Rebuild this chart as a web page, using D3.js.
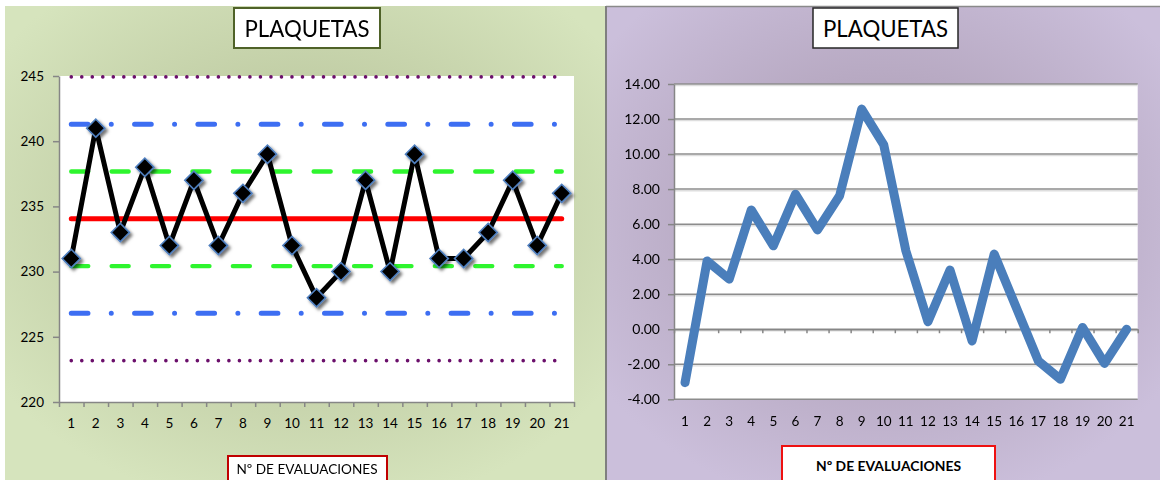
<!DOCTYPE html>
<html>
<head>
<meta charset="utf-8">
<script src="https://cdn.jsdelivr.net/npm/d3@7"></script>
<style>
  html, body { margin: 0; padding: 0; background: #ffffff; }
  svg { display: block; font-family: Lato, "Open Sans", "Liberation Sans", sans-serif; }
</style>
</head>
<body>
<svg id="chart" width="1160" height="480"></svg>
<script>
// Evaluation numbers shared by both charts
const categories = [1, 2, 3, 4, 5, 6, 7, 8, 9, 10, 11, 12, 13, 14, 15, 16, 17, 18, 19, 20, 21];

// Platelet readings per evaluation (control chart)
const plaquetas = [231, 241, 233, 238, 232, 237, 232, 236, 239, 232, 228, 230, 237, 230, 239, 231, 231, 233, 237, 232, 236];

// Control limits: centre line and the 1, 2 and 3 sigma bands
const centerLine = 234.05;
const sigma1 = [230.42, 237.68];
const sigma2 = [226.80, 241.30];
const sigma3 = [223.17, 244.93];

// Accumulated deviation per evaluation (right chart)
const acumulado = [-3.05, 3.90, 2.86, 6.81, 4.76, 7.71, 5.67, 7.62, 12.57, 10.52, 4.48, 0.43, 3.38, -0.67, 4.29, 1.24, -1.81, -2.86, 0.10, -1.95, 0.00];

// Tick values
const leftYTicks = [220, 225, 230, 235, 240, 245];
const rightYTicks = [-4, -2, 0, 2, 4, 6, 8, 10, 12, 14];

const titleText = "PLAQUETAS";
const xTitleText = "Nº DE EVALUACIONES";

const svg = d3.select("#chart");
const defs = svg.append("defs");

// Number format with a plain hyphen for negatives
const fmt2 = d3.formatLocale({ decimal: ".", thousands: ",", grouping: [3], currency: ["", ""], minus: "-" }).format(".2f");

function radial(id, inner, outer) {
  const g = defs.append("radialGradient").attr("id", id)
    .attr("cx", "50%").attr("cy", "45%").attr("r", "62%");
  g.append("stop").attr("offset", "0%").attr("stop-color", inner);
  g.append("stop").attr("offset", "100%").attr("stop-color", outer);
}
radial("bgGreen", "#b0bb92", "#d6e4bd");
radial("bgPurple", "#a595ab", "#cbbfdb");

const shadow = defs.append("filter").attr("id", "mshadow")
  .attr("x", "-60%").attr("y", "-60%").attr("width", "220%").attr("height", "220%");
shadow.append("feDropShadow").attr("dx", 2.5).attr("dy", 2.5)
  .attr("stdDeviation", 1.8).attr("flood-color", "#000").attr("flood-opacity", 0.55);

const axisGray = "#868686";

function styleAxis(g, fontSize) {
  g.selectAll(".domain").attr("stroke", axisGray).attr("stroke-width", 1.5);
  g.selectAll(".tick line").attr("stroke", axisGray).attr("stroke-width", 1.5);
  g.selectAll(".tick text").attr("fill", "#000").attr("font-size", fontSize)
    .attr("font-family", "Lato, 'Open Sans', sans-serif");
}

// ---------------- Left panel: control chart ----------------
svg.append("rect").attr("x", 5).attr("y", 6).attr("width", 600).attr("height", 474)
  .attr("fill", "url(#bgGreen)");

const L = { left: 59, right: 574, top: 76, bottom: 402 };
const xL = d3.scaleBand().domain(categories).range([L.left, L.right]).padding(0);
const xLc = c => xL(c) + xL.bandwidth() / 2;
const xLb = d3.scaleLinear().domain([0.5, categories.length + 0.5]).range([L.left, L.right]);
const yL = d3.scaleLinear().domain([220, 245]).range([L.bottom, L.top]);

svg.append("rect").attr("x", L.left).attr("y", L.top)
  .attr("width", L.right - L.left).attr("height", L.bottom - L.top).attr("fill", "#fff");

const limitLine = v => d3.line().x(c => xLc(c)).y(() => yL(v))(categories);

function drawLimit(v, color, width, dash) {
  svg.append("path").attr("d", limitLine(v)).attr("fill", "none")
    .attr("stroke", color).attr("stroke-width", width)
    .attr("stroke-linecap", "round").attr("stroke-dasharray", dash);
}
sigma3.forEach(v => drawLimit(v, "#6b0f6b", 3.6, "0.01 10.5"));
sigma2.forEach(v => drawLimit(v, "#3d6ef2", 5, "16.7 23.3 0.01 23.3"));
sigma1.forEach(v => drawLimit(v, "#2ef52e", 4.4, "17 23.4"));
drawLimit(centerLine, "#ff0000", 5, null);

// Axes
const gLy = svg.append("g").attr("transform", `translate(${L.left},0)`)
  .call(d3.axisLeft(yL).tickValues(leftYTicks).tickSize(6).tickSizeOuter(0).tickPadding(9));
styleAxis(gLy, 13.5);

const boundaries = categories.map(c => c - 0.5).concat([categories.length + 0.5]);
const gLx = svg.append("g").attr("transform", `translate(0,${L.bottom})`)
  .call(d3.axisBottom(xLb).tickValues(boundaries).tickFormat("").tickSize(5).tickSizeOuter(0));
styleAxis(gLx, 13);

const gLxl = svg.append("g").attr("transform", `translate(0,${L.bottom})`)
  .call(d3.axisBottom(xL).tickSize(0).tickPadding(16));
gLxl.select(".domain").remove();
styleAxis(gLxl, 13.5);

// Data line and markers
svg.append("path")
  .attr("d", d3.line().x((d, i) => xLc(categories[i])).y(d => yL(d))(plaquetas))
  .attr("fill", "none").attr("stroke", "#000").attr("stroke-width", 5)
  .attr("stroke-linejoin", "round");

const diamond = d3.symbol().type(d3.symbolSquare).size(165);
svg.append("g").attr("filter", "url(#mshadow)")
  .selectAll("path").data(plaquetas).join("path")
  .attr("d", diamond)
  .attr("transform", (d, i) => `translate(${xLc(categories[i])},${yL(d)}) rotate(45)`)
  .attr("fill", "#000").attr("stroke", "#4f7fbf").attr("stroke-width", 1.6);

// Titles
svg.append("rect").attr("x", 234).attr("y", 8).attr("width", 146).attr("height", 40)
  .attr("fill", "#fff").attr("stroke", "#4f6228").attr("stroke-width", 2);
svg.append("text").attr("x", 307).attr("y", 37).attr("text-anchor", "middle")
  .attr("font-size", 24).attr("fill", "#000")
  .attr("textLength", 125).attr("lengthAdjust", "spacingAndGlyphs").text(titleText);

svg.append("rect").attr("x", 228).attr("y", 456).attr("width", 159).attr("height", 34)
  .attr("fill", "#fff").attr("stroke", "#c00000").attr("stroke-width", 2);
svg.append("text").attr("x", 307).attr("y", 474).attr("text-anchor", "middle")
  .attr("font-size", 14).attr("fill", "#000")
  .attr("textLength", 141).attr("lengthAdjust", "spacingAndGlyphs").text(xTitleText);

// ---------------- Right panel: accumulated deviation ----------------
svg.append("rect").attr("x", 607).attr("y", 6).attr("width", 553).attr("height", 474)
  .attr("fill", "url(#bgPurple)");
svg.append("line").attr("x1", 606).attr("x2", 1160).attr("y1", 6.5).attr("y2", 6.5)
  .attr("stroke", "#8a8a8a").attr("stroke-width", 1.5);
svg.append("line").attr("x1", 606).attr("x2", 606).attr("y1", 6).attr("y2", 480)
  .attr("stroke", "#7f7f7f").attr("stroke-width", 2);

const R = { left: 674, right: 1137.7, top: 84, bottom: 399.3 };
const xR = d3.scaleBand().domain(categories).range([R.left, R.right]).padding(0);
const xRc = c => xR(c) + xR.bandwidth() / 2;
const xRb = d3.scaleLinear().domain([0.5, categories.length + 0.5]).range([R.left, R.right]);
const yR = d3.scaleLinear().domain([-4, 14]).range([R.bottom, R.top]);

svg.append("rect").attr("x", R.left).attr("y", R.top)
  .attr("width", R.right - R.left).attr("height", R.bottom - R.top).attr("fill", "#fff");

// Gridlines with a soft light edge underneath
const grid = svg.append("g");
grid.selectAll("line.soft").data(rightYTicks.filter(v => v > -4)).join("line")
  .attr("class", "soft")
  .attr("x1", R.left).attr("x2", R.right)
  .attr("y1", d => yR(d) + 1.6).attr("y2", d => yR(d) + 1.6)
  .attr("stroke", "#dedede").attr("stroke-width", 1.4);
grid.selectAll("line.main").data(rightYTicks).join("line")
  .attr("class", "main")
  .attr("x1", R.left).attr("x2", R.right)
  .attr("y1", d => yR(d)).attr("y2", d => yR(d))
  .attr("stroke", "#8c8c8c").attr("stroke-width", 1.5);

const gRy = svg.append("g").attr("transform", `translate(${R.left},0)`)
  .call(d3.axisLeft(yR).tickValues(rightYTicks).tickFormat(fmt2)
    .tickSize(6).tickSizeOuter(0).tickPadding(8));
styleAxis(gRy, 14);

const gRx = svg.append("g").attr("transform", `translate(0,${yR(0)})`)
  .call(d3.axisBottom(xRb).tickValues(boundaries).tickFormat("").tickSize(4).tickSizeOuter(0));
styleAxis(gRx, 13);

const gRxl = svg.append("g").attr("transform", `translate(0,${R.bottom})`)
  .call(d3.axisBottom(xR).tickSize(0).tickPadding(17));
gRxl.select(".domain").remove();
styleAxis(gRxl, 13.5);

svg.append("path")
  .attr("d", d3.line().x((d, i) => xRc(categories[i])).y(d => yR(d))(acumulado))
  .attr("fill", "none").attr("stroke", "#4a7ebb").attr("stroke-width", 9)
  .attr("stroke-linejoin", "round").attr("stroke-linecap", "round");

svg.append("rect").attr("x", 813).attr("y", 8).attr("width", 145).attr("height", 40)
  .attr("fill", "#fff").attr("stroke", "#262626").attr("stroke-width", 1.5);
svg.append("text").attr("x", 885.5).attr("y", 37).attr("text-anchor", "middle")
  .attr("font-size", 24).attr("fill", "#000")
  .attr("textLength", 125).attr("lengthAdjust", "spacingAndGlyphs").text(titleText);

svg.append("rect").attr("x", 782).attr("y", 446).attr("width", 213).attr("height", 44)
  .attr("fill", "#fff").attr("stroke", "#ee1111").attr("stroke-width", 2);
svg.append("text").attr("x", 888.5).attr("y", 471).attr("text-anchor", "middle")
  .attr("font-size", 14).attr("font-weight", "bold").attr("fill", "#000")
  .attr("textLength", 145).attr("lengthAdjust", "spacingAndGlyphs").text(xTitleText);
</script>
</body>
</html>
